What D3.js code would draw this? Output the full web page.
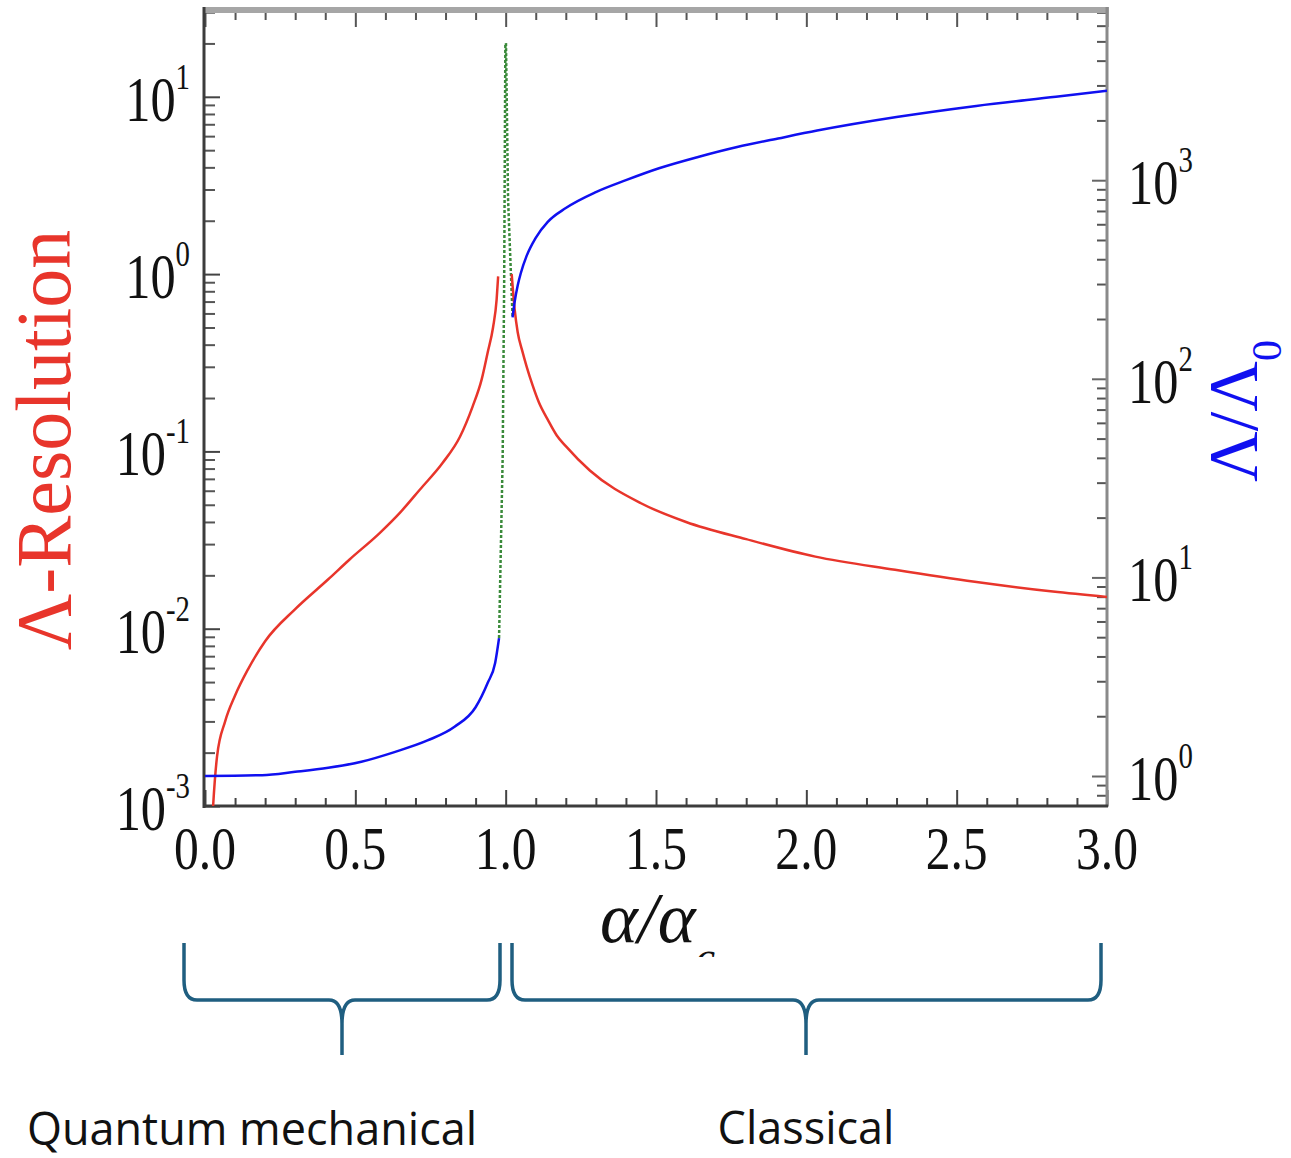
<!DOCTYPE html>
<html>
<head>
<meta charset="utf-8">
<script src="https://cdn.jsdelivr.net/npm/d3@7"></script>
<style>body{margin:0;background:#fff}</style>
</head>
<body>
<script>
// ---- data ----
// Λ-resolution (left axis), below and above α/αc = 1
const resLowAlpha = [0.022, 0.027, 0.04, 0.067, 0.10, 0.143, 0.20, 0.30, 0.41, 0.48, 0.58, 0.648, 0.715, 0.79, 0.848, 0.89, 0.92, 0.94, 0.958, 0.97, 0.975];
const resLowVal   = [0.0007, 0.001, 0.0019, 0.0030, 0.0042, 0.0059, 0.0085, 0.0129, 0.019, 0.0245, 0.0345, 0.045, 0.061, 0.086, 0.121, 0.179, 0.254, 0.36, 0.50, 0.72, 0.97];
const resHighAlpha = [1.02, 1.03, 1.04, 1.055, 1.07, 1.09, 1.11, 1.14, 1.17, 1.2, 1.28, 1.45, 1.6, 1.8, 2.03, 2.295, 2.56, 2.82, 3.0];
const resHighVal   = [1.0, 0.63, 0.47, 0.37, 0.30, 0.235, 0.19, 0.151, 0.123, 0.107, 0.078, 0.051, 0.040, 0.032, 0.0255, 0.0215, 0.0184, 0.0162, 0.0151];

// Λ/Λ0 (right axis)
const ratioLowAlpha = [0.0, 0.19, 0.30, 0.41, 0.52, 0.63, 0.74, 0.83, 0.90, 0.94, 0.965, 0.978];
const ratioLowVal   = [1.0, 1.01, 1.05, 1.10, 1.18, 1.32, 1.51, 1.77, 2.22, 2.94, 3.71, 4.95];
const ratioHighAlpha = [1.023, 1.03, 1.04, 1.05, 1.07, 1.10, 1.14, 1.20, 1.30, 1.40, 1.51, 1.64, 1.77, 1.906, 2.036, 2.3, 2.565, 2.83, 3.0];
const ratioHighVal   = [204, 245, 295, 339, 417, 513, 617, 724, 871, 1000, 1148, 1309, 1469, 1622, 1778, 2080, 2366, 2630, 2818];

// dotted divergence near the critical point (right axis)
const spikeLeftAlpha = [0.978, 0.990, 0.995, 0.999];
const spikeLeftVal   = [4.95, 40, 300, 4900];
const spikeRightAlpha = [1.001, 1.008, 1.023];
const spikeRightVal   = [4900, 800, 204];

const xTicks = d3.range(0, 3.001, 0.1).map(v => +v.toFixed(1));
const xLabels = ['0.0', '0.5', '1.0', '1.5', '2.0', '2.5', '3.0'];
const leftDecades = [1e-3, 1e-2, 1e-1, 1e0, 1e1];
const rightDecades = [1e0, 1e1, 1e2, 1e3];
const regions = ['Quantum mechanical', 'Classical'];

// ---- layout ----
const W = 1291, H = 1158;
const L = 205, R = 1107, T = 10, B = 806;
const SERIF = '"Liberation Serif", "Times New Roman", serif';
const RED = '#e8352b', BLUE = '#1010f0', GREEN = '#3a8a3a', AXIS = '#3c3c3c', BRACE = '#1f5e80';

const svg = d3.select('body').append('svg')
  .attr('xmlns', 'http://www.w3.org/2000/svg')
  .attr('width', W).attr('height', H)
  .attr('viewBox', `0 0 ${W} ${H}`);
svg.append('rect').attr('width', W).attr('height', H).attr('fill', '#fff');

const x = d3.scaleLinear().domain([0, 3]).range([L, R]);
const yL = d3.scaleLog().domain([1e-3, Math.pow(10, 1.4896)]).range([B, T]);
const yR = d3.scaleLog().domain([Math.pow(10, -0.151), Math.pow(10, 3.857)]).range([B, T]);

// minor log ticks inside a domain
function logMinor(scale) {
  const [a, b] = scale.domain();
  const out = [];
  for (let e = Math.floor(Math.log10(a)); e <= Math.ceil(Math.log10(b)); e++) {
    for (let k = 2; k <= 9; k++) {
      const v = k * Math.pow(10, e);
      if (v >= a && v <= b) out.push(v);
    }
  }
  return out;
}

// tick-only axis (ticks pointing into the plot)
function tickAxis(axisFn, scale, vals, len, tr, color) {
  svg.append('g')
    .attr('transform', tr)
    .attr('color', color)
    .call(axisFn(scale).tickValues(vals).tickSizeInner(-len).tickSizeOuter(0).tickFormat(''))
    .call(g => g.select('.domain').remove())
    .call(g => g.selectAll('line').attr('stroke-width', 2));
}

const xMinor = xTicks.filter(v => Math.abs(v * 2 - Math.round(v * 2)) > 1e-6);
const xMajor = xTicks.filter(v => Math.abs(v * 2 - Math.round(v * 2)) < 1e-6);
tickAxis(d3.axisBottom, x, xMinor, 8, `translate(0,${B})`, '#444');
tickAxis(d3.axisBottom, x, xMajor, 16, `translate(0,${B})`, '#444');
tickAxis(d3.axisTop, x, xMinor, 8, `translate(0,${T + 2})`, '#555');
tickAxis(d3.axisTop, x, xMajor, 15, `translate(0,${T + 2})`, '#555');
tickAxis(d3.axisLeft, yL, logMinor(yL), 10, `translate(${L},0)`, '#555');
tickAxis(d3.axisLeft, yL, leftDecades, 15, `translate(${L},0)`, '#444');
tickAxis(d3.axisRight, yR, logMinor(yR), 10, `translate(${R},0)`, '#555');
tickAxis(d3.axisRight, yR, rightDecades, 15, `translate(${R},0)`, '#666');

// frame
svg.append('rect').attr('x', L - 2).attr('y', 7).attr('width', R - L + 4).attr('height', 6).attr('fill', '#a6a6a6');
svg.append('line').attr('x1', R).attr('x2', R).attr('y1', 7).attr('y2', B + 1)
  .attr('stroke', '#8a8a8a').attr('stroke-width', 3);
svg.append('line').attr('x1', L - 1).attr('x2', L - 1).attr('y1', 7).attr('y2', B + 2)
  .attr('stroke', AXIS).attr('stroke-width', 3);
svg.append('line').attr('x1', L - 2).attr('x2', R + 1).attr('y1', B).attr('y2', B)
  .attr('stroke', AXIS).attr('stroke-width', 3);

// curves
svg.append('clipPath').attr('id', 'plot')
  .append('rect').attr('x', L).attr('y', T).attr('width', R - L).attr('height', B - T);
const plot = svg.append('g').attr('clip-path', 'url(#plot)');

function curve(xs, ys, yScale, color, width, dash, interp) {
  const pts = xs.map((a, i) => [a, ys[i]]);
  const gen = d3.line().x(d => x(d[0])).y(d => yScale(d[1])).curve(interp || d3.curveMonotoneX);
  const p = plot.append('path').attr('d', gen(pts))
    .attr('fill', 'none').attr('stroke', color).attr('stroke-width', width);
  if (dash) p.attr('stroke-dasharray', dash);
}
curve(spikeLeftAlpha, spikeLeftVal, yR, GREEN, 2.5, '3,2', d3.curveLinear);
curve(spikeRightAlpha, spikeRightVal, yR, GREEN, 2.5, '3,2', d3.curveLinear);
curve(resLowAlpha, resLowVal, yL, RED, 2.5);
curve(resHighAlpha, resHighVal, yL, RED, 2.5);
curve(ratioLowAlpha, ratioLowVal, yR, BLUE, 2.5);
curve(ratioHighAlpha, ratioHighVal, yR, BLUE, 2.5);

// tick labels (condensed Times look)
function powLabel(px, py, v, anchor) {
  const e = Math.round(Math.log10(v));
  const t = svg.append('g').attr('transform', `translate(${px},${py}) scale(0.8,1)`)
    .append('text').attr('x', 0).attr('y', 24)
    .attr('text-anchor', anchor).attr('font-family', SERIF).attr('fill', '#111');
  t.append('tspan').attr('font-size', 63).text('10');
  t.append('tspan').attr('font-size', 36).attr('dy', -32).text(e < 0 ? '-' + (-e) : String(e));
}
leftDecades.forEach(v => powLabel(190, yL(v), v, 'end'));
rightDecades.forEach(v => powLabel(1128, yR(v), v, 'start'));

xLabels.forEach(s => {
  svg.append('text')
    .attr('transform', `translate(${x(+s)},869) scale(0.8,1)`)
    .attr('text-anchor', 'middle').attr('font-family', SERIF)
    .attr('font-size', 62).attr('fill', '#111').text(s);
});

// axis titles
svg.append('text')
  .attr('transform', 'translate(70,440) rotate(-90)')
  .attr('text-anchor', 'middle').attr('font-family', SERIF)
  .attr('font-size', 78).attr('fill', RED).text('Λ-Resolution');

const rt = svg.append('text')
  .attr('transform', 'translate(1257,482) rotate(-90)')
  .attr('text-anchor', 'start').attr('font-family', SERIF)
  .attr('font-size', 70).attr('fill', BLUE);
rt.append('tspan').text('Λ/Λ');
rt.append('tspan').attr('font-size', 42).attr('dy', 24).text('0');

svg.append('clipPath').attr('id', 'xtitle')
  .append('rect').attr('x', 580).attr('y', 860).attr('width', 200).attr('height', 97);
const xt = svg.append('text')
  .attr('clip-path', 'url(#xtitle)')
  .attr('x', 600).attr('y', 942)
  .attr('font-family', SERIF).attr('font-style', 'italic')
  .attr('font-size', 72).attr('fill', '#111');
xt.append('tspan').text('α/α');
xt.append('tspan').attr('font-size', 44).attr('dy', 30).text('c');

// regime braces
function brace(xl, xr, xm) {
  const y0 = 943, y1 = 1000, y2 = 1055, r = 13;
  const d = `M${xl},${y0} V${y1 - 20} Q${xl},${y1} ${xl + r},${y1} H${xm - r} Q${xm},${y1} ${xm},${y1 + 24} V${y2}` +
            ` M${xm},${y1 + 24} Q${xm},${y1} ${xm + r},${y1} H${xr - r} Q${xr},${y1} ${xr},${y1 - 20} V${y0}`;
  svg.append('path').attr('d', d).attr('fill', 'none')
    .attr('stroke', BRACE).attr('stroke-width', 3.5).attr('stroke-linejoin', 'round');
}
brace(184, 500, 342);
brace(512, 1101, 806);

svg.append('text').attr('x', 252).attr('y', 1145)
  .attr('text-anchor', 'middle').attr('font-family', '"Open Sans", sans-serif')
  .attr('font-size', 45).attr('fill', '#111').text(regions[0]);
svg.append('text').attr('x', 806).attr('y', 1144)
  .attr('text-anchor', 'middle').attr('font-family', '"Open Sans", sans-serif')
  .attr('font-size', 45).attr('fill', '#111').text(regions[1]);
</script>
</body>
</html>
